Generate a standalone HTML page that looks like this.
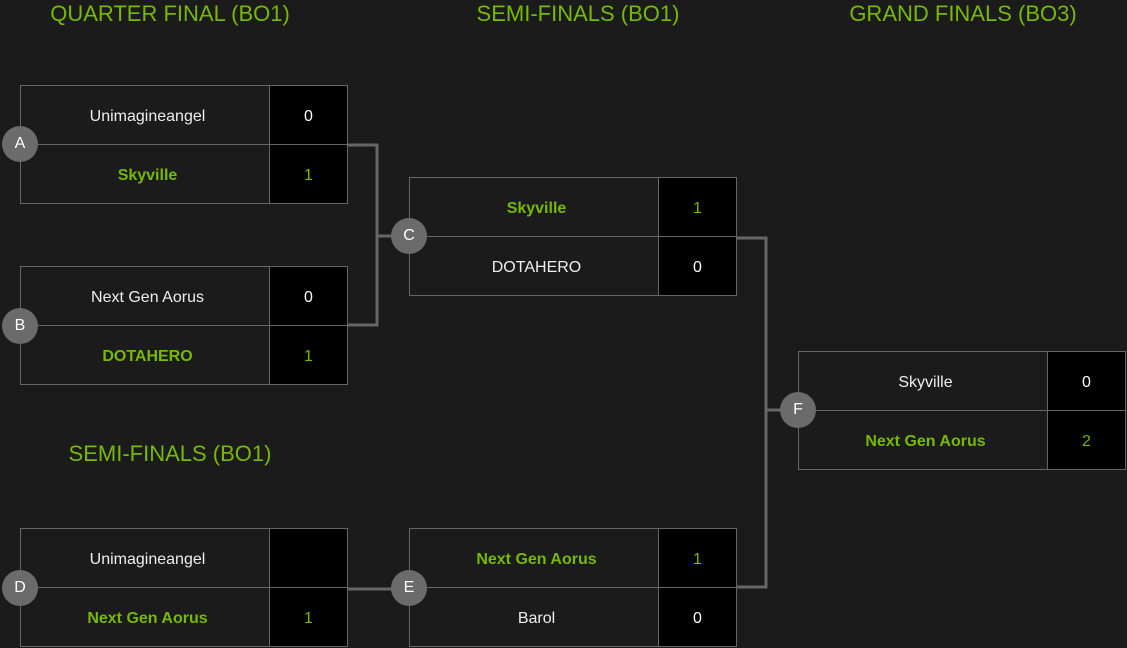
<!DOCTYPE html>
<html><head><style>
body{margin:0;width:1127px;height:648px;background:#1b1b1b;position:relative;overflow:hidden;font-family:"Liberation Sans",sans-serif;}
.t{position:absolute;color:#76b900;font-size:22px;top:0;height:28px;line-height:28px;text-align:center;width:340px;}
.m{position:absolute;width:326px;height:117px;border:1px solid #666;box-sizing:content-box;}
.r{position:absolute;left:0;width:326px;height:58px;display:flex;}
.r1{top:0;border-bottom:1px solid #666}
.r2{top:59px}
.n{width:249px;border-right:1px solid #666;color:#eee;font-size:16px;display:flex;align-items:center;justify-content:center;padding-top:3px;padding-left:5px;box-sizing:border-box}
.s{flex:1;background:#000;color:#fff;font-size:16px;display:flex;align-items:center;justify-content:center;padding-top:3px}
.g{color:#76b900;font-weight:bold}
.gs{color:#76b900}
.c{position:absolute;width:36px;height:36px;border-radius:50%;background:#6b6b6b;color:#fff;font-size:16px;display:flex;align-items:center;justify-content:center;margin:-18px 0 0 -18px}
svg{position:absolute;left:0;top:0}
</style></head><body>
<div class="t" style="left:0">QUARTER FINAL (BO1)</div>
<div class="t" style="left:408px">SEMI-FINALS (BO1)</div>
<div class="t" style="left:793px">GRAND FINALS (BO3)</div>
<div class="t" style="left:0;top:440px">SEMI-FINALS (BO1)</div>
<svg width="1127" height="648"><g stroke="#666" stroke-width="3" fill="none">
<path d="M347 145H377V325H347M377 236H392"/>
<path d="M736 238H766V587H736M766 410H781"/>
<path d="M347 589H392"/>
</g></svg>
<div class="m" style="left:20px;top:85px"><div class="r r1"><div class="n">Unimagineangel</div><div class="s">0</div></div><div class="r r2"><div class="n g">Skyville</div><div class="s gs">1</div></div></div>
<div class="m" style="left:20px;top:266px"><div class="r r1"><div class="n">Next Gen Aorus</div><div class="s">0</div></div><div class="r r2"><div class="n g">DOTAHERO</div><div class="s gs">1</div></div></div>
<div class="m" style="left:409px;top:177px"><div class="r r1"><div class="n g">Skyville</div><div class="s gs">1</div></div><div class="r r2"><div class="n">DOTAHERO</div><div class="s">0</div></div></div>
<div class="m" style="left:798px;top:351px"><div class="r r1"><div class="n">Skyville</div><div class="s">0</div></div><div class="r r2"><div class="n g">Next Gen Aorus</div><div class="s gs">2</div></div></div>
<div class="m" style="left:20px;top:528px"><div class="r r1"><div class="n">Unimagineangel</div><div class="s"></div></div><div class="r r2"><div class="n g">Next Gen Aorus</div><div class="s gs">1</div></div></div>
<div class="m" style="left:409px;top:528px"><div class="r r1"><div class="n g">Next Gen Aorus</div><div class="s gs">1</div></div><div class="r r2"><div class="n">Barol</div><div class="s">0</div></div></div>
<div class="c" style="left:20px;top:144px">A</div>
<div class="c" style="left:20px;top:326px">B</div>
<div class="c" style="left:409px;top:236px">C</div>
<div class="c" style="left:20px;top:588px">D</div>
<div class="c" style="left:409px;top:588px">E</div>
<div class="c" style="left:798px;top:410px">F</div>
</body></html>
